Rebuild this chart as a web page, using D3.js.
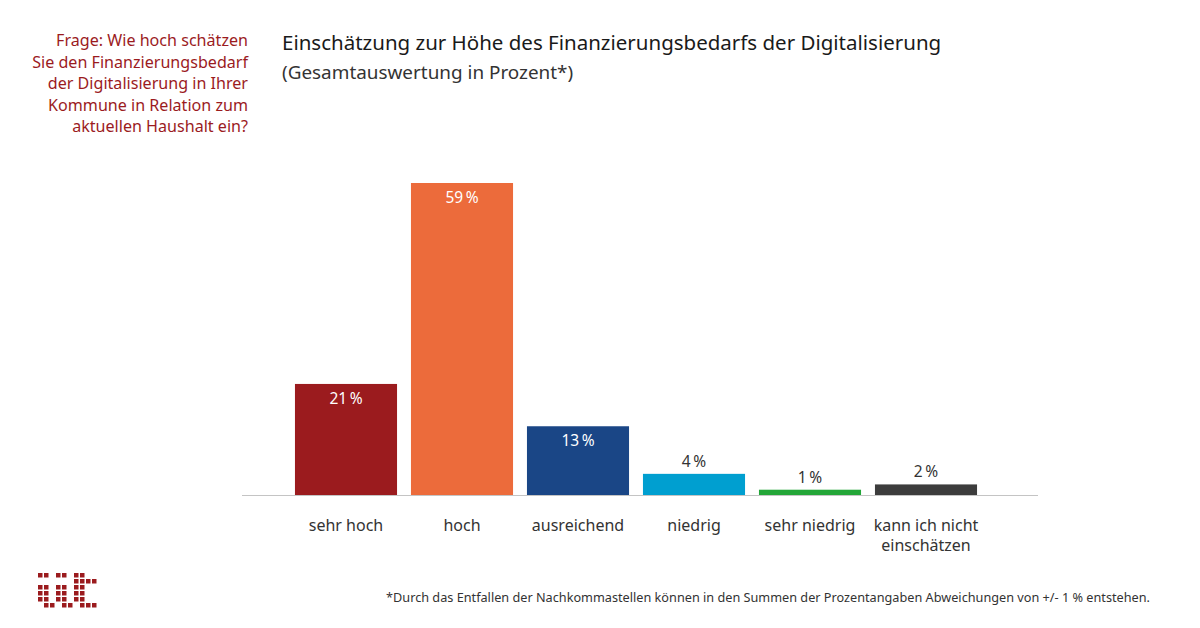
<!DOCTYPE html>
<html>
<head>
<meta charset="utf-8">
<script src="https://cdn.jsdelivr.net/npm/d3@7"></script>
<style>
  body { margin: 0; background: #fff; }
  svg { display: block; font-family: "Noto Sans", "Open Sans", sans-serif; }
</style>
</head>
<body>
<svg id="chart" width="1200" height="628"></svg>
<script>
// data
var categories = ["sehr hoch", "hoch", "ausreichend", "niedrig", "sehr niedrig", "kann ich nicht|einschätzen"];
var values = [21, 59, 13, 4, 1, 2];
var barColors = ["#9b1b1e", "#ec6b3b", "#1a4686", "#009fd0", "#23a638", "#3c3c3c"];
var questionLines = ["Frage: Wie hoch schätzen", "Sie den Finanzierungsbedarf", "der Digitalisierung in Ihrer", "Kommune in Relation zum", "aktuellen Haushalt ein?"];
var title = "Einschätzung zur Höhe des Finanzierungsbedarfs der Digitalisierung";
var subtitle = "(Gesamtauswertung in Prozent*)";
var footnote = "*Durch das Entfallen der Nachkommastellen können in den Summen der Prozentangaben Abweichungen von +/- 1 % entstehen.";
// logo pixels, one string per row
var logoRows = ["11011011", "0000001111", "11011011", "11011011", "11011011", "0110110111"];

var svg = d3.select("#chart");
var red = "#9b1b1e";
var textColor = "#333";

// question on the left
svg.append("g")
  .selectAll("text")
  .data(questionLines)
  .join("text")
  .attr("x", 248)
  .attr("y", function(d, i) { return 46 + i * 21.5; })
  .attr("text-anchor", "end")
  .attr("fill", red)
  .style("font-size", "16.1px")
  .text(function(d) { return d; });

// title block
svg.append("text")
  .attr("x", 282).attr("y", 50)
  .attr("fill", "#1a1a1a")
  .style("font-size", "20.5px")
  .text(title);
svg.append("text")
  .attr("x", 282).attr("y", 79)
  .attr("fill", textColor)
  .style("font-size", "18.9px")
  .text(subtitle);

// scales
var baseY = 495;
var x = d3.scaleBand()
  .domain(categories)
  .range([288, 984])
  .paddingInner(0.12)
  .paddingOuter(0.06);
var y = d3.scaleLinear()
  .domain([0, 59])
  .range([baseY, 183]);

var bars = svg.append("g")
  .selectAll("g")
  .data(categories)
  .join("g");

bars.append("rect")
  .attr("x", function(d) { return x(d); })
  .attr("width", x.bandwidth())
  .attr("y", function(d, i) { return y(values[i]); })
  .attr("height", function(d, i) { return baseY - y(values[i]); })
  .attr("fill", function(d, i) { return barColors[i]; });

// value labels: inside for big bars, above for small ones
bars.append("text")
  .attr("x", function(d) { return x(d) + x.bandwidth() / 2; })
  .attr("y", function(d, i) {
    return values[i] > 10 ? y(values[i]) + 20 : y(values[i]) - 7;
  })
  .attr("text-anchor", "middle")
  .attr("fill", function(d, i) { return values[i] > 10 ? "#fff" : textColor; })
  .style("font-size", "15.5px")
  .text(function(d, i) { return values[i] + "\u2009%"; });

// baseline
svg.append("line")
  .attr("x1", 242).attr("x2", 1038)
  .attr("y1", baseY + 0.5).attr("y2", baseY + 0.5)
  .attr("stroke", "#c4c4c4")
  .attr("stroke-width", 1.2);

// category labels (| marks a line break)
var cat = svg.append("g")
  .selectAll("text")
  .data(categories)
  .join("text")
  .attr("text-anchor", "middle")
  .attr("fill", textColor)
  .style("font-size", "16px");
cat.selectAll("tspan")
  .data(function(d) { return d.split("|").map(function(s) { return { s: s, c: d }; }); })
  .join("tspan")
  .attr("x", function(d) { return x(d.c) + x.bandwidth() / 2; })
  .attr("y", function(d, i) { return 531 + i * 20; })
  .text(function(d) { return d.s; });

// footnote
svg.append("text")
  .attr("x", 1150).attr("y", 602)
  .attr("text-anchor", "end")
  .attr("fill", textColor)
  .style("font-size", "12.7px")
  .text(footnote);

// logo
var logo = svg.append("g").attr("transform", "translate(38,573)");
logoRows.forEach(function(row, r) {
  row.split("").forEach(function(c, k) {
    if (c === "1") {
      logo.append("rect")
        .attr("x", k * 6).attr("y", r * 6)
        .attr("width", 4.5).attr("height", 4.5)
        .attr("fill", red);
    }
  });
});
</script>
</body>
</html>
